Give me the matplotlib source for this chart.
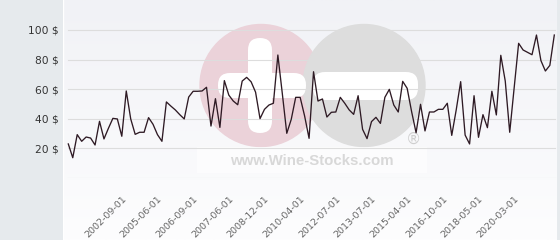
import numpy as np
import matplotlib
matplotlib.use("Agg")
import matplotlib.pyplot as plt
from matplotlib.patches import Circle, FancyBboxPatch, Rectangle

# price per month (categorical x axis, one point per quote)
prices = [
    23, 13.7, 29.3, 24.8, 27.7, 27, 22.3, 38.3, 26.4, 33.6,
    40.3, 39.9, 28.2, 58.8, 39.9, 29.5, 30.9, 30.9, 40.8, 36.3,
    29.3, 24.8, 51.4, 48.6, 46, 42.8, 39.9, 54.7, 58.6, 58.6,
    58.8, 61.3, 35.1, 53.6, 34.2, 65.8, 56, 52, 49.5, 65.5,
    68, 65, 58, 40.1, 46.4, 49.3, 50.5, 83.1, 57, 30.2,
    39.6, 54.5, 54.5, 41.9, 26.8, 71.8, 52, 53.4, 41.2, 44.4,
    44.6, 54.5, 50.5, 46, 43, 55.6, 32.9, 26.6, 38.1, 41,
    36.9, 54.5, 59.9, 49.3, 44.6, 65.3, 60.6, 44.8, 30.6, 49.8,
    31.8, 44.6, 44.6, 46.4, 46.4, 50.5, 28.8, 46, 65.1, 29,
    23, 55.6, 27.5, 42.8, 34, 58.6, 42.6, 82.9, 65.5, 30.9,
    61, 91, 86.5, 84.9, 83.3, 96.6, 79.3, 72.3, 76.1, 96.6,
]
tick_labels = ["2002-09-01", "2005-06-01", "2006-09-01", "2007-06-01",
               "2008-12-01", "2010-04-01", "2012-07-01", "2013-07-01",
               "2015-04-01", "2016-10-01", "2018-05-01", "2020-03-01"]
tick_idx = list(range(12, 101, 8))
y_ticks = [20, 40, 60, 80, 100]

W, H = 560, 240
fig = plt.figure(figsize=(W / 100, H / 100), dpi=100, facecolor="#e6eaed")

# background panel + watermark, in pixel coords
bg = fig.add_axes([63 / W, 0, 494 / W, 1])
bg.set_xlim(63, 557)
bg.set_ylim(240, 0)
bg.axis("off")
grad = np.linspace(0, 1, 100).reshape(-1, 1)
top = np.array([241, 242, 246]) / 255
bot = np.array([253, 253, 254]) / 255
img = top + (bot - top) * grad[..., None]
bg.imshow(img, extent=(63, 557, 240, 0), aspect="auto", zorder=0)
bg.axvline(63.5, color="white", lw=1, zorder=1)

bg.add_patch(Circle((261, 85.5), 61, color="#ebd2d9", zorder=2))
bg.add_patch(Circle((364, 85.5), 61, color="#dddddd", zorder=3))
rs = "round,pad=0,rounding_size=12"
bg.add_patch(FancyBboxPatch((248, 38), 24, 95, boxstyle=rs, fc="white", ec="none", zorder=4))
bg.add_patch(FancyBboxPatch((218, 73), 88, 25, boxstyle=rs, fc="white", ec="none", zorder=4))
bg.add_patch(FancyBboxPatch((313, 72), 105, 28, boxstyle=rs, fc="white", ec="none", zorder=4))
bg.add_patch(Rectangle((197, 147), 230, 26, fc="white", ec="none", alpha=0.6, zorder=5))
bg.text(312, 161, "www.Wine-Stocks.com", family="Liberation Sans", weight="bold",
        fontsize=10.8, color="#d8d8d8", ha="center", va="center", zorder=6)
bg.text(413, 139, "\u00ae", fontsize=11, color="#cfcfcf", ha="center", va="center", zorder=6)

# main chart
ax = fig.add_axes([63 / W, 62 / H, 494 / W, 178 / H])
ax.set_facecolor("none")
x = np.arange(len(prices))
px = 4.459
ax.set_xlim(-(68.3 - 63) / px, len(prices) - 1 + (557 - 554.3) / px)
ax.set_ylim(0, 178 / 1.48)

for v in [0] + y_ticks:
    ax.axhline(v, xmin=5 / 494, xmax=492 / 494, color="#dddddd", lw=0.8, zorder=1)

ax.plot(x, prices, color="#2e1a24", lw=0.95, zorder=3)

ax.set_yticks(y_ticks)
ax.set_yticklabels([f"{v} $" for v in y_ticks])
ax.set_xticks(tick_idx)
ax.set_xticklabels(tick_labels, rotation=45, ha="right", va="top", rotation_mode="anchor")
ax.tick_params(axis="y", length=0, pad=3, labelsize=7.7, labelcolor="#333333")
ax.tick_params(axis="x", length=0, pad=11.5, labelsize=6.8, labelcolor="#666666")
for s in ax.spines.values():
    s.set_visible(False)

fig.savefig("out.png", dpi=100, facecolor=fig.get_facecolor())
